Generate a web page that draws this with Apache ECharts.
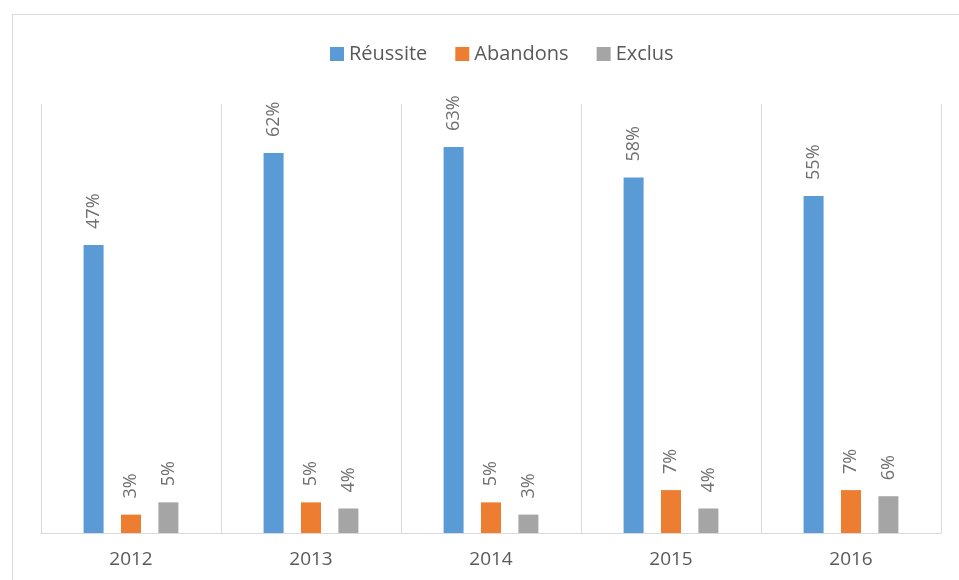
<!doctype html>
<html lang="fr">
<head>
    <meta charset="UTF-8">
    <title>Réussite, abandons, exclus</title>
    <script src="https://cdn.jsdelivr.net/npm/echarts@6/dist/echarts.min.js"></script>
    <style>
        html, body { margin: 0; padding: 0; background: #fff; }
        #main { width: 959px; height: 580px; }
    </style>
</head>
<body>
<div id="main"></div>
<script>
var years = ['2012', '2013', '2014', '2015', '2016'];
var reussite = [47, 62, 63, 58, 55];
var abandons = [3, 5, 5, 7, 7];
var exclus = [5, 4, 3, 4, 6];

var chart = echarts.init(document.getElementById('main'), null, {renderer: 'canvas'});

function barLabel() {
    return {
        show: true,
        position: 'top',
        rotate: 90,
        align: 'left',
        verticalAlign: 'middle',
        distance: 16,
        color: '#6f6f6f',
        fontSize: 18,
        fontFamily: 'Open Sans',
        formatter: '{c}%'
    };
}

var option = {
    animation: false,
    graphic: [{
        type: 'rect',
        shape: {x: 12.5, y: 14.5, width: 1000, height: 700},
        style: {fill: 'none', stroke: '#d9d9d9', lineWidth: 1}
    }],
    legend: {
        data: ['Réussite', 'Abandons', 'Exclus'],
        top: 39,
        left: 325,
        itemWidth: 14,
        itemHeight: 14,
        itemGap: 28,
        icon: 'rect',
        textStyle: {fontSize: 20, color: '#595959', fontFamily: 'Open Sans'}
    },
    grid: {left: 41, right: 18, top: 104, bottom: 47},
    xAxis: {
        type: 'category',
        data: years,
        axisLine: {lineStyle: {color: '#d9d9d9', width: 1}},
        axisTick: {show: false},
        axisLabel: {fontSize: 19, color: '#595959', margin: 17, fontFamily: 'Open Sans'},
        splitLine: {show: true, lineStyle: {color: '#d9d9d9', width: 1}}
    },
    yAxis: {
        type: 'value',
        min: 0,
        max: 70,
        show: false,
        splitLine: {show: false}
    },
    series: [
        {name: 'Réussite', type: 'bar', data: reussite, barWidth: 20, barGap: '87%',
         itemStyle: {color: '#5b9bd5'}, label: barLabel()},
        {name: 'Abandons', type: 'bar', data: abandons, barWidth: 20, barGap: '87%',
         itemStyle: {color: '#ed7d31'}, label: barLabel()},
        {name: 'Exclus', type: 'bar', data: exclus, barWidth: 20, barGap: '87%',
         itemStyle: {color: '#a5a5a5'}, label: barLabel()}
    ]
};

chart.setOption(option);
</script>
</body>
</html>
